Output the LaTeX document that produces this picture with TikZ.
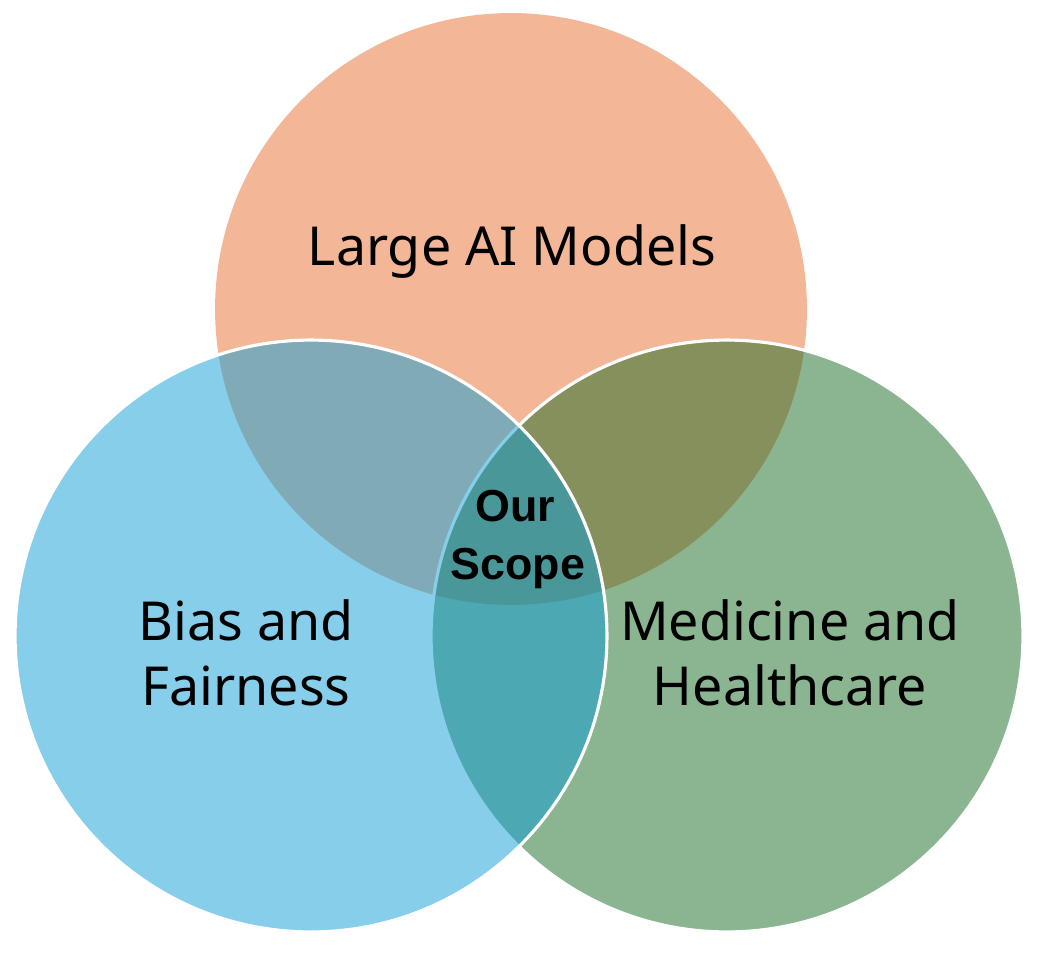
\documentclass[tikz,border=0pt]{standalone}
\usepackage{fontspec}
\setmainfont{Noto Sans}
\newfontfamily\boldlabel{Liberation Sans}
\definecolor{orangeC}{HTML}{E97132}
\definecolor{blueC}{HTML}{0F9ED5}
\definecolor{greenC}{HTML}{196B24}
\tikzset{
  setfill/.style={fill=#1, fill opacity=0.5},
  setline/.style={draw=white, line width=1.8pt},
  biglabel/.style={font=\fontsize{30.6}{36}\selectfont, anchor=base, inner sep=0pt, text=black},
  scopelabel/.style={font=\boldlabel\bfseries\fontsize{25.5}{30}\selectfont, anchor=base, inner sep=0pt, text=black}
}
\begin{document}
\begin{tikzpicture}[x=0.02cm, y=-0.02cm]
\useasboundingbox[fill=white] (0,0) rectangle (1048,953);
\coordinate (oc) at (511,309);
\coordinate (gc) at (727,636);
\coordinate (bc) at (311,636);
\path[setfill=orangeC] (oc) circle[radius=5.92cm];
\path[setfill=greenC, setline] (gc) circle[radius=5.92cm];
\path[setfill=blueC, setline] (bc) circle[radius=5.92cm];
\node[biglabel] (lam) at (512,265) {Large AI Models};
\node[biglabel] (bias1) at (246,640) {Bias and};
\node[biglabel] (bias2) at (246,705) {Fairness};
\node[biglabel] (med1) at (790,640) {Medicine and};
\node[biglabel] (med2) at (790,705) {Healthcare};
\node[scopelabel] (our) at (515,521) {Our};
\node[scopelabel] (scope) at (518,579) {Scope};
\end{tikzpicture}
\end{document}
